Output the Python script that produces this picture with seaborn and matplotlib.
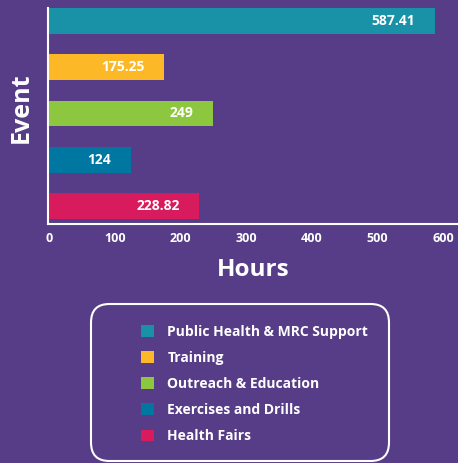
import matplotlib
matplotlib.use("Agg")
import matplotlib.pyplot as plt
import seaborn as sns
import pandas as pd
from matplotlib.patches import Patch, FancyBboxPatch

# data
events = ["Public Health & MRC Support", "Training", "Outreach & Education",
          "Exercises and Drills", "Health Fairs"]
hours = [587.41, 175.25, 249, 124, 228.82]
bar_labels = ["587.41", "175.25", "249", "124", "228.82"]
colors = ["#1992a8", "#fdb827", "#8dc63f", "#0077a0", "#d81b5c"]
x_ticks = [0, 100, 200, 300, 400, 500, 600]

bg = "#573d87"
sns.set_theme(style="white")
plt.rcParams['font.family'] = ['Open Sans', 'DejaVu Sans']
plt.rcParams['font.weight'] = 'bold'

df = pd.DataFrame({"Event": events, "Hours": hours})

fig = plt.figure(figsize=(4.58, 4.63), dpi=100, facecolor=bg)
ax = fig.add_axes([48 / 458, 1 - 224 / 463, 410 / 458, 216 / 463])
ax.set_facecolor(bg)

sns.barplot(data=df, x="Hours", y="Event", hue="Event", palette=colors,
            orient="h", width=0.56, legend=False, ax=ax, saturation=1,
            edgecolor="none", linewidth=0)

for i, (v, lab) in enumerate(zip(hours, bar_labels)):
    ax.annotate(lab, xy=(v, i), xytext=(-14, 0), textcoords="offset points",
                ha="right", va="center", color="white", fontsize=10,
                fontweight="bold")

ax.set_xlim(-2, 623)
ax.set_ylim(4.39, -0.28)
ax.set_xticks(x_ticks)
ax.set_xticklabels([str(t) for t in x_ticks], color="white", fontsize=9,
                   fontweight="bold")
ax.set_yticks([])
ax.tick_params(axis="x", length=0, pad=6)
ax.set_xlabel("Hours", color="white", fontsize=17.5, fontweight="bold", labelpad=9)
ax.set_ylabel("Event", color="white", fontsize=18, fontweight="bold", labelpad=10)
ax.yaxis.label.set_y(0.54)
for s in ["top", "right"]:
    ax.spines[s].set_visible(False)
for s in ["left", "bottom"]:
    ax.spines[s].set_color("white")
    ax.spines[s].set_linewidth(1.5)

# legend box
box = FancyBboxPatch((91 / 458, 1 - 461 / 463), 298 / 458, 157 / 463,
                     boxstyle="round,pad=0,rounding_size=0.04",
                     transform=fig.transFigure, facecolor="none",
                     edgecolor="white", linewidth=1.5)
fig.patches.append(box)

handles = [Patch(facecolor=c, edgecolor="none") for c in colors]
leg = fig.legend(handles, events, loc="upper left",
                 bbox_to_anchor=(134 / 458, 1 - 318 / 463), frameon=False,
                 handlelength=0.95, handleheight=0.95, handletextpad=0.95,
                 labelspacing=0.87, borderpad=0,
                 prop={"size": 10, "weight": "bold"})
for t in leg.get_texts():
    t.set_color("white")

fig.savefig("out.png", dpi=100, facecolor=bg)
